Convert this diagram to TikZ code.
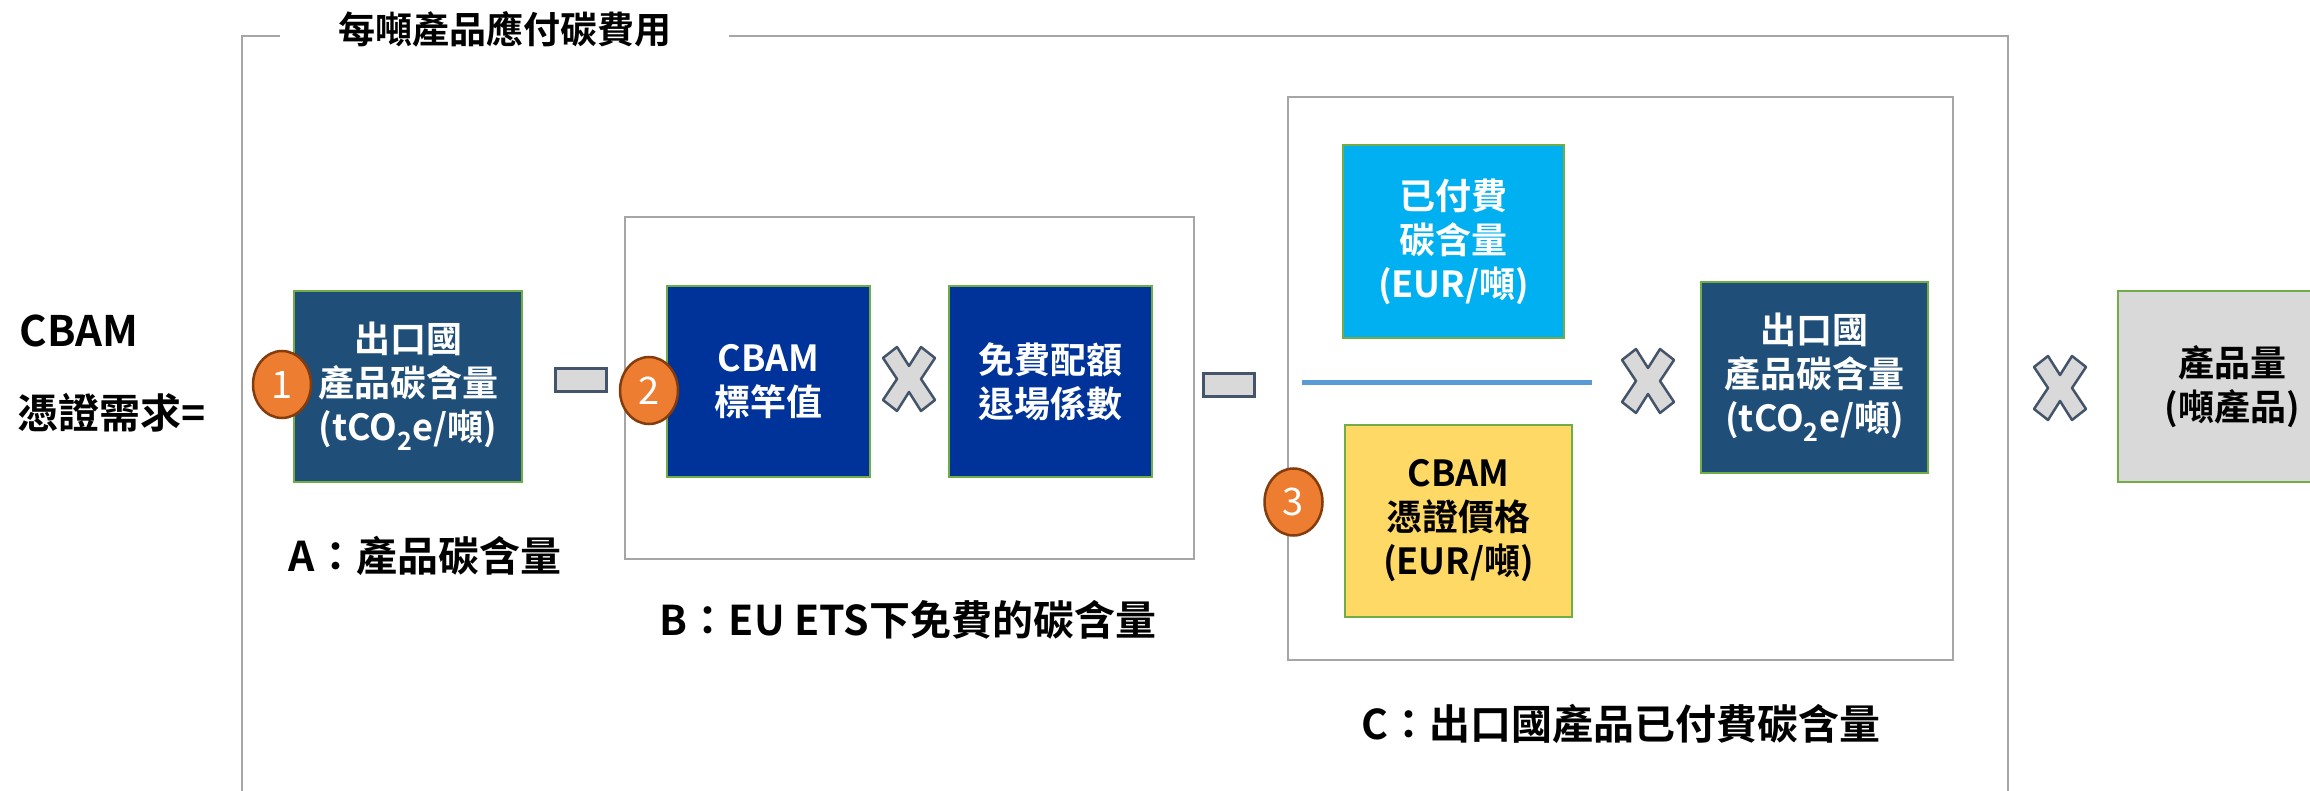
\documentclass[tikz,border=0pt]{standalone}
\usepackage{fontspec}
\setmainfont{Noto Sans CJK TC}[BoldFont={Noto Sans CJK TC Bold}]
\usetikzlibrary{shapes.geometric}
\definecolor{navyA}{HTML}{1F4E79}
\definecolor{royal}{HTML}{003399}
\definecolor{skyfill}{HTML}{00B0F0}
\definecolor{goldfill}{HTML}{FFD966}
\definecolor{signgray}{HTML}{D9D9D9}
\definecolor{slate}{HTML}{44546A}
\definecolor{framegray}{HTML}{A6A6A6}
\definecolor{edgegreen}{HTML}{70AD47}
\definecolor{badgeorange}{HTML}{ED7D31}
\definecolor{badgebrown}{HTML}{843C0C}
\definecolor{barblue}{HTML}{5B9BD5}
\tikzset{
  frame/.style={draw=framegray, line width=2.5pt},
  valuebox/.style={rectangle, draw=edgegreen, line width=1.5pt, minimum width=228pt,
    minimum height=191pt, inner sep=0pt, align=center, text=white,
    font=\bfseries\fontsize{36}{44}\selectfont},
  badge/.style={ellipse, fill=badgeorange, draw=badgebrown, line width=2.5pt,
    minimum width=58pt, minimum height=67pt, inner sep=0pt, text=white,
    font=\fontsize{38}{38}\selectfont},
  minusbar/.style={rectangle, fill=signgray, draw=slate, line width=2.5pt,
    minimum width=51pt, minimum height=23pt, inner sep=0pt},
  caption/.style={font=\bfseries\fontsize{41}{48}\selectfont},
  timessign/.pic={
    \draw[draw=slate, fill=signgray, line width=2.5pt, line join=round]
      (0,-13) -- (12,-32) -- (26,-21) -- (12,0) -- (26,21) -- (12,32) -- (0,13)
      -- (-12,32) -- (-26,21) -- (-12,0) -- (-26,-21) -- (-12,-32) -- cycle;
  }
}
\begin{document}
\begin{tikzpicture}[x=1pt,y=-1pt]
  \useasboundingbox (0,0) rectangle (2310,791);
  % outer frame with its title
  \node[font=\bfseries\fontsize{37}{44}\selectfont] (title) at (505,29) {每噸產品應付碳費用};
  \draw[frame] (280,36) -- (242,36) -- (242,791);
  \draw[frame] (729,36) -- (2008,36) -- (2008,791);
  % left side
  \node[anchor=west, font=\bfseries\fontsize{42}{48}\selectfont] (cbam) at (16,331) {CBAM};
  \node[anchor=west, font=\bfseries\fontsize{41}{48}\selectfont] (demand) at (14,413) {憑證需求=};
  % A
  \node[valuebox, fill=navyA] (embA) at (408,386.5) {出口國\\產品碳含量\\(tCO\textsubscript{2}e/噸)};
  \node[badge] (one) at (282,384.5) {1};
  \node[caption] (capA) at (425,556) {A：產品碳含量};
  \node[minusbar] (minusA) at (581,380) {};
  % B
  \draw[frame] (625,217) rectangle (1194,559);
  \node[valuebox, fill=royal, minimum width=203pt] (bench) at (768.5,381.5) {CBAM\\標竿值};
  \node[valuebox, fill=royal, minimum width=203pt] (phase) at (1050.5,381.5) {免費配額\\退場係數};
  \node[badge] (two) at (649,390.5) {2};
  \pic at (909,379) {timessign};
  \node[caption] (capB) at (908,620) {B：EU ETS下免費的碳含量};
  \node[minusbar] (minusB) at (1229,385) {};
  % C
  \draw[frame] (1288,97) rectangle (1953,660);
  \node[valuebox, fill=skyfill, minimum width=221pt, minimum height=193pt] (paid) at (1453.5,241.5) {已付費\\碳含量\\(EUR/噸)};
  \coordinate (barL) at (1302,383);
  \coordinate (barR) at (1592,383);
  \draw[barblue, line width=5pt] (barL) -- (barR);
  \node[valuebox, fill=goldfill, text=black, minimum width=227pt, minimum height=192pt] (price) at (1458.5,521) {CBAM\\憑證價格\\(EUR/噸)};
  \node[badge] (three) at (1293.5,502) {3};
  \pic at (1648,381) {timessign};
  \node[valuebox, fill=navyA, minimum width=227pt] (embC) at (1814.5,377.5) {出口國\\產品碳含量\\(tCO\textsubscript{2}e/噸)};
  \node[caption] (capC) at (1621,724) {C：出口國產品已付費碳含量};
  % product amount
  \pic at (2060,388) {timessign};
  \node[valuebox, fill=signgray, text=black] (amount) at (2232,386.5) {產品量\\(噸產品)};
\end{tikzpicture}
\end{document}
